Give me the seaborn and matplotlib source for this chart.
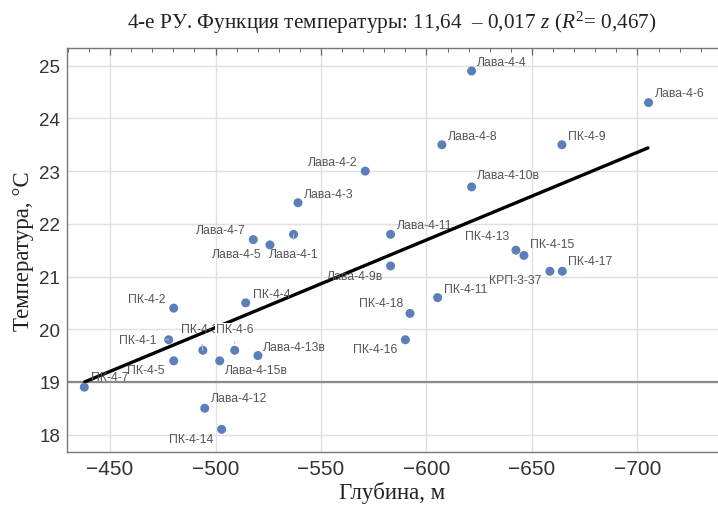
import numpy as np
import pandas as pd
import matplotlib
matplotlib.use("Agg")
import matplotlib.pyplot as plt
import seaborn as sns
from matplotlib.ticker import MultipleLocator

# данные
nombres = ["ПК-4-7", "ПК-4-1", "ПК-4-2", "ПК-4-5", "ПК-4-3", "Лава-4-12",
           "Лава-4-15в", "ПК-4-14", "ПК-4-6", "ПК-4-4", "Лава-4-7", "Лава-4-13в",
           "Лава-4-5", "Лава-4-1", "Лава-4-3", "Лава-4-2", "Лава-4-11", "Лава-4-9в",
           "ПК-4-16", "ПК-4-18", "ПК-4-11", "Лава-4-8", "Лава-4-4", "Лава-4-10в",
           "ПК-4-13", "ПК-4-15", "КРП-3-37", "ПК-4-17", "ПК-4-9", "Лава-4-6"]
glubina = [-437.8, -477.8, -480.2, -480.2, -494.0, -494.9,
           -502.0, -502.9, -509.1, -514.3, -517.9, -520.1,
           -525.8, -537.0, -539.1, -571.0, -583.0, -583.0,
           -590.0, -592.2, -605.3, -607.3, -621.4, -621.4,
           -642.4, -646.2, -658.5, -664.4, -664.2, -705.3]
temperatura = [18.9, 19.8, 20.4, 19.4, 19.6, 18.5,
               19.4, 18.1, 19.6, 20.5, 21.7, 19.5,
               21.6, 21.8, 22.4, 23.0, 21.8, 21.2,
               19.8, 20.3, 20.6, 23.5, 24.9, 22.7,
               21.5, 21.4, 21.1, 21.1, 23.5, 24.3]

# линия тренда (концы отрезка)
trend_x = [-438, -705]
trend_y = [19.0, 23.44]

# расположение подписей: (выравнивание, dx px, dy px вниз, выноска)
label_pos = {
    "ПК-4-7": ("left", 7, -10, False), "ПК-4-1": ("right", -12, 0, True),
    "ПК-4-2": ("right", -8, -9, False), "ПК-4-5": ("right", -9, 9, False),
    "ПК-4-3": ("center", -3, -21, True), "Лава-4-12": ("left", 6, -10, False),
    "Лава-4-15в": ("left", 5, 9, False), "ПК-4-14": ("right", -8, 10, False),
    "ПК-4-6": ("center", 0, -21, True), "ПК-4-4": ("left", 7, -9, False),
    "Лава-4-7": ("right", -8, -10, False), "Лава-4-13в": ("left", 5, -9, False),
    "Лава-4-5": ("right", -8, 9, False), "Лава-4-1": ("center", 0, 20, True),
    "Лава-4-3": ("left", 6, -9, False), "Лава-4-2": ("right", -8, -9, False),
    "Лава-4-11": ("left", 6, -9, False), "Лава-4-9в": ("right", -7, 10, False),
    "ПК-4-16": ("right", -8, 9, False), "ПК-4-18": ("right", -7, -10, False),
    "ПК-4-11": ("left", 6, -9, False), "Лава-4-8": ("left", 6, -9, False),
    "Лава-4-4": ("left", 5, -9, False), "Лава-4-10в": ("left", 5, -12, False),
    "ПК-4-13": ("right", -7, -14, False), "ПК-4-15": ("left", 6, -11, False),
    "КРП-3-37": ("right", -8, 9, False), "ПК-4-17": ("left", 6, -10, False),
    "ПК-4-9": ("left", 6, -9, False), "Лава-4-6": ("left", 6, -10, False),
}

df = pd.DataFrame({"nombre": nombres, "z": glubina, "t": temperatura})

sns.set_theme(style="whitegrid")
plt.rcParams["font.family"] = ["Liberation Sans", "DejaVu Sans"]
plt.rcParams["mathtext.fontset"] = "custom"
plt.rcParams["mathtext.rm"] = "Liberation Serif"
plt.rcParams["mathtext.it"] = "Liberation Serif:italic"

fig = plt.figure(figsize=(7.18, 5.06), dpi=100)
ax = fig.add_axes([67 / 718, 53 / 506, 1 - 67 / 718, (453 - 49) / 506])
ax.set_facecolor("white")

ax.axhline(19, color="#8a8a8a", lw=1.6, zorder=2)
sns.lineplot(x=trend_x, y=trend_y, ax=ax, color="black", lw=2.4, zorder=3)
sns.scatterplot(data=df, x="z", y="t", ax=ax, color="#5b7fb8", s=42,
                edgecolor="none", zorder=4)

k = 0.72  # px -> pt
for _, row in df.iterrows():
    ha, dx, dy, leader = label_pos[row["nombre"]]
    props = None
    if leader:
        props = dict(arrowstyle="-", color="#bbbbbb", lw=0.8, shrinkA=4, shrinkB=5)
    bbox = None
    if row["nombre"] == "ПК-4-6":
        bbox = dict(boxstyle="square,pad=0.05", fc="white", ec="none")
    ax.annotate(row["nombre"], (row["z"], row["t"]), xytext=(dx * k, -dy * k),
                textcoords="offset points", ha=ha, va="center", fontsize=8.8,
                color="#555555", arrowprops=props, bbox=bbox,
                zorder=6 if bbox else 5)

ax.set_xlim(-429.6, -738.2)
ax.set_ylim(17.67, 25.336)
ax.xaxis.set_major_locator(MultipleLocator(50))
ax.xaxis.set_minor_locator(MultipleLocator(10))
ax.yaxis.set_major_locator(MultipleLocator(1))
ax.yaxis.set_minor_locator(MultipleLocator(0.2))
ax.grid(True, which="major", color="#e0e0e0", lw=1)
ax.grid(False, which="minor")
ax.tick_params(which="both", direction="in", top=True, right=False,
               colors="#666666", labelcolor="#333333")
ax.tick_params(axis="x", labelsize=15, pad=5)
ax.tick_params(axis="y", labelsize=13.5, pad=5)
ax.tick_params(which="major", length=5, width=0.9)
ax.tick_params(which="minor", length=3, width=0.7)
ax.set_xticks([-450, -500, -550, -600, -650, -700])
ax.set_xticklabels(["\u2212450", "\u2212500", "\u2212550", "\u2212600", "\u2212650", "\u2212700"])
for side in ["left", "bottom", "top"]:
    ax.spines[side].set_color("#777777")
    ax.spines[side].set_linewidth(1.0)
ax.spines["right"].set_visible(False)

serif = ["Liberation Serif", "DejaVu Serif"]
ax.set_xlabel("Глубина, м", family=serif, fontsize=16.5, color="#222222", labelpad=2)
ax.set_ylabel("Температура, °С", family=serif, fontsize=16.5, color="#222222", labelpad=4)
fig.text(0.545, 0.955,
         "4-е РУ. Функция температуры: 11,64  \u2013 0,017 $z$ ($R^2$= 0,467)",
         family=serif, fontsize=15.3, color="#222222", ha="center", va="center")

fig.savefig("out.png", dpi=100)
